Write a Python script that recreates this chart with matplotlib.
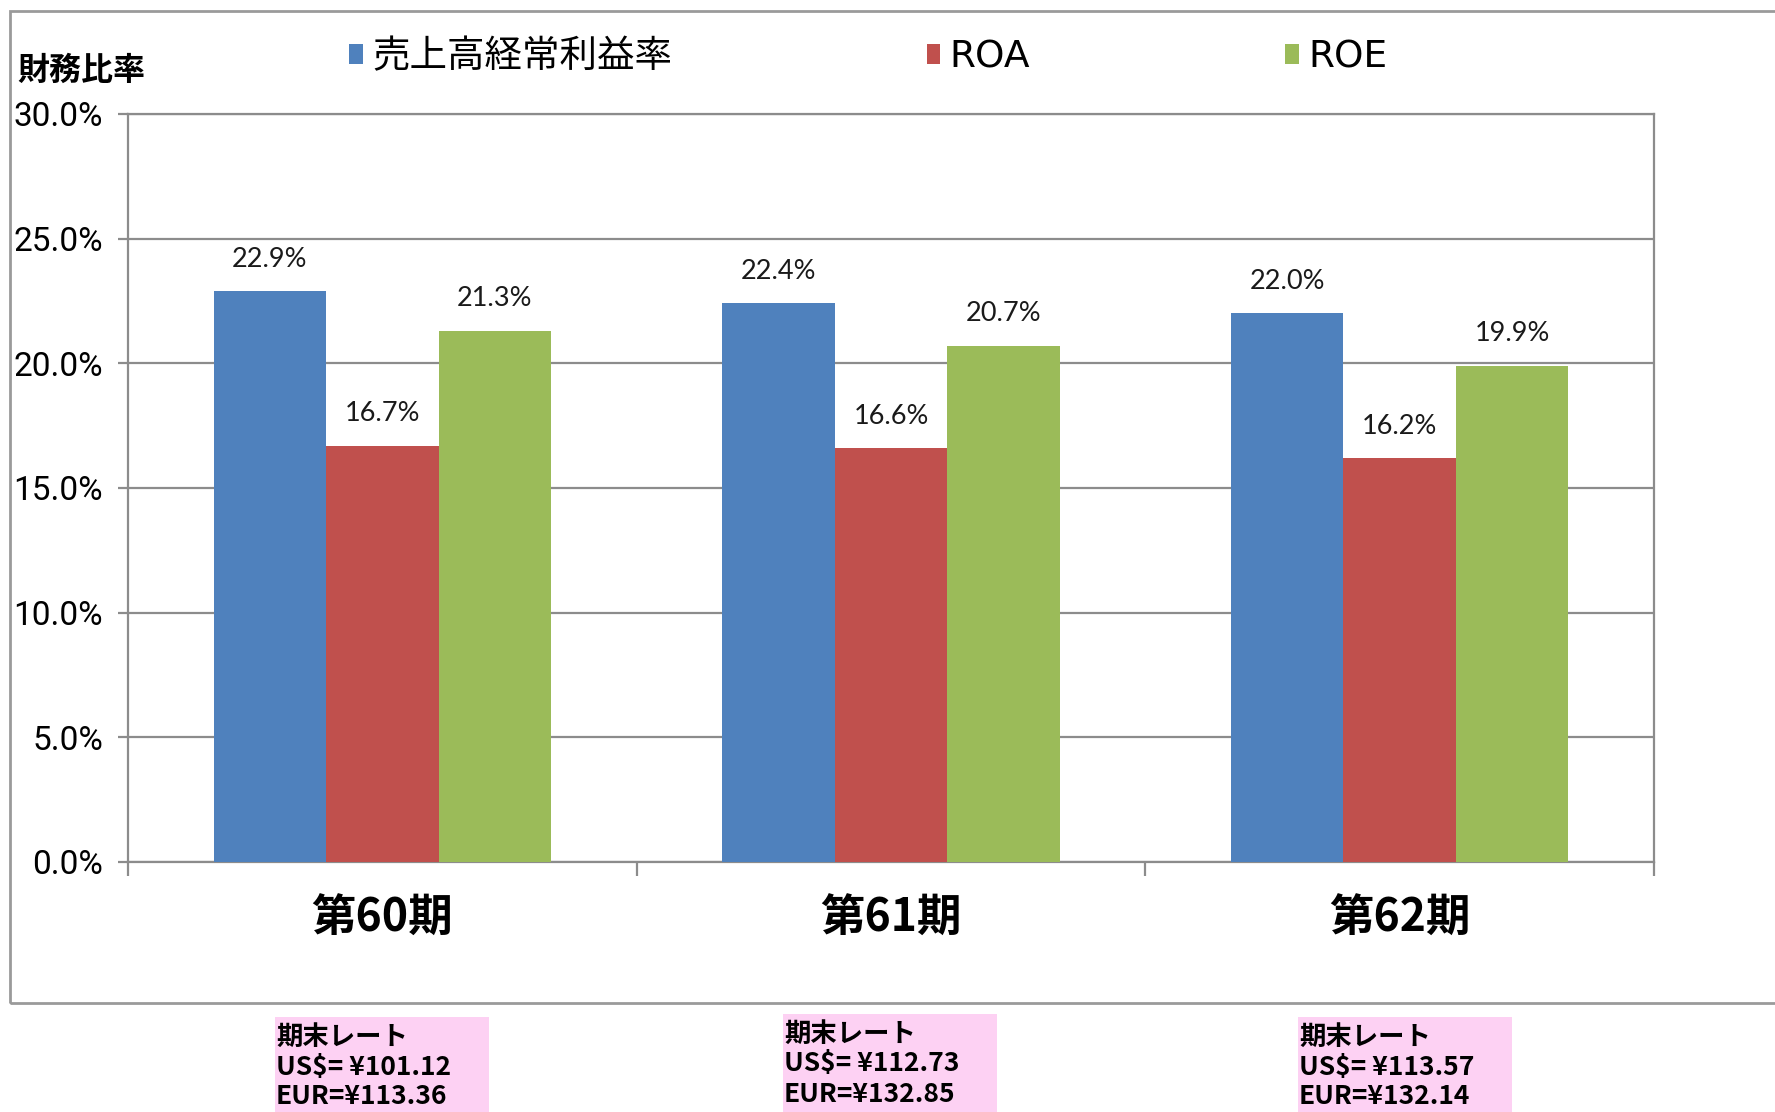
import matplotlib
matplotlib.use("Agg")
import matplotlib.pyplot as plt
from matplotlib.patches import Rectangle, Patch
from matplotlib.ticker import FuncFormatter, FixedLocator
import numpy as np

# ---- data ----
categories = ["第60期", "第61期", "第62期"]
series_names = ["売上高経常利益率", "ROA", "ROE"]
sales_margin = [22.9, 22.4, 22.0]
roa = [16.7, 16.6, 16.2]
roe = [21.3, 20.7, 19.9]
usd_rates = ["101.12", "112.73", "113.57"]
eur_rates = ["113.36", "132.85", "132.14"]
y_ticks = [0, 5, 10, 15, 20, 25, 30]
y_label = "財務比率"
rate_title = "期末レート"

colors = ["#4F81BD", "#C0504D", "#9BBB59"]
W, H = 1775, 1112
DPI = 100

CJK = ["Noto Sans CJK JP", "DejaVu Sans"]
NARROW = ["Liberation Sans Narrow", "DejaVu Sans Condensed", "Roboto", "DejaVu Sans"]
LEG = ["DejaVu Sans", "Noto Sans CJK JP"]
plt.rcParams["font.family"] = CJK

fig = plt.figure(figsize=(W / DPI, H / DPI), dpi=DPI)
fig.patch.set_facecolor("white")

def fx(px):
    return px / W

def fy(py):
    return 1 - py / H

# outer chart frame
frame = Rectangle((fx(10), fy(1003)), fx(1790) - fx(10), fy(11) - fy(1003),
                  transform=fig.transFigure, fill=False, edgecolor="#9a9a9a",
                  linewidth=2.0, zorder=0)
fig.patches.append(frame)

ax = fig.add_axes([fx(128), fy(862), fx(1654) - fx(128), fy(114) - fy(862)])
ax.set_facecolor("white")

x = np.arange(len(categories))
bw = 0.221
series = [sales_margin, roa, roe]
for i, (vals, c, name) in enumerate(zip(series, colors, series_names)):
    bars = ax.bar(x + (i - 1) * bw, vals, width=bw, color=c, label=name, zorder=3)
    for b, v in zip(bars, vals):
        ax.annotate(f"{v:.1f}%", (b.get_x() + b.get_width() / 2, b.get_height()),
                    xytext=(0, 23), textcoords="offset points", ha="center",
                    va="center", fontsize=19.5, family=["Lato", "DejaVu Sans"],
                    color="#1a1a1a", zorder=4)

ax.set_xlim(-0.5, 2.5)
ax.set_ylim(0, 30)
ax.yaxis.set_major_locator(FixedLocator(y_ticks))
ax.yaxis.set_major_formatter(FuncFormatter(lambda v, p: f"{v:.1f}%"))
ax.grid(axis="y", color="#8c8c8c", linewidth=1.6, zorder=1)
ax.set_axisbelow(True)

for s in ["left", "right", "top", "bottom"]:
    ax.spines[s].set_color("#8c8c8c")
    ax.spines[s].set_linewidth(1.6)

ax.tick_params(axis="y", length=7, width=1.6, color="#8c8c8c", pad=11,
               labelsize=24, labelcolor="black")
for t in ax.get_yticklabels():
    t.set_family(NARROW)

ax.set_xticks(x)
ax.set_xticklabels(categories, fontsize=32, fontweight="bold")
ax.set_xticks([-0.5, 0.5, 1.5, 2.5], minor=True)
ax.tick_params(axis="x", which="major", length=0, pad=24)
ax.tick_params(axis="x", which="minor", length=10, width=1.6, color="#8c8c8c")

# legend
handles = [Patch(facecolor=c, edgecolor="none") for c in colors]
leg = fig.legend(handles, series_names, loc="center left",
                 bbox_to_anchor=(fx(349), fy(57)), ncol=3, frameon=False,
                 prop={"family": LEG, "size": 27}, handlelength=0.36,
                 handleheight=0.45, handletextpad=0.25, columnspacing=6.8,
                 borderpad=0, borderaxespad=0)

# y axis title
fig.text(fx(17), fy(71), y_label, fontsize=23, fontweight="bold",
         ha="left", va="center")

# rate boxes
box_left = [275, 783, 1298]
box_top = [1017, 1014, 1017]
for i in range(len(categories)):
    l, t = box_left[i], box_top[i]
    r = Rectangle((fx(l), 0), fx(214), fy(t), transform=fig.transFigure,
                  facecolor="#FDD1F3", edgecolor="none", zorder=1)
    fig.patches.append(r)
    lines = [rate_title, f"US$= ¥{usd_rates[i]}", f"EUR=¥{eur_rates[i]}"]
    for j, s in enumerate(lines):
        fig.text(fx(l + 1), fy(t + 20 + 30 * j), s, fontsize=19,
                 fontweight="bold", family=CJK, ha="left", va="center",
                 zorder=2)

fig.savefig("out.png", dpi=DPI, facecolor="white")
